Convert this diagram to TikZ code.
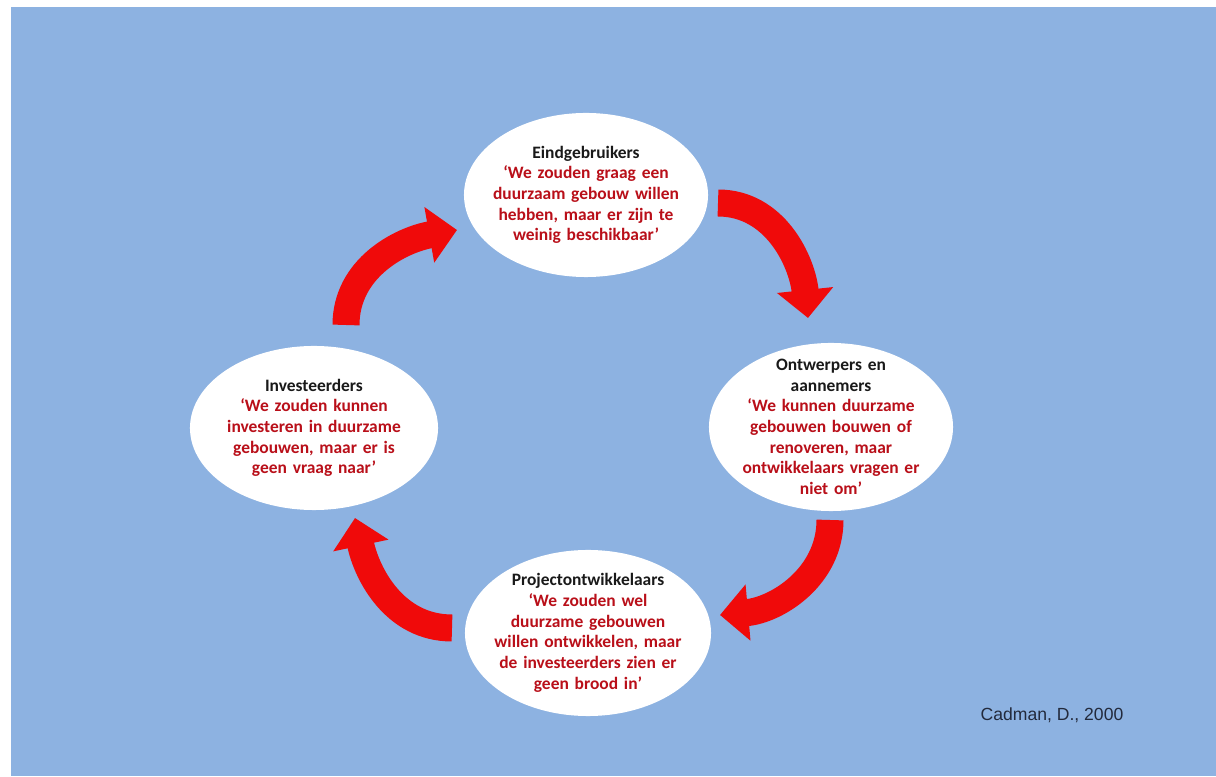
\documentclass[tikz,border=0pt]{standalone}
\usepackage{fontspec}
\setmainfont{Carlito}
\newfontfamily\citefont{Liberation Sans}
\usetikzlibrary{shapes.geometric,arrows.meta}

\definecolor{bgblue}{RGB}{141,178,225}
\definecolor{arrowred}{RGB}{240,10,10}
\definecolor{quotered}{RGB}{185,15,25}
\definecolor{citegray}{RGB}{35,42,60}

\begin{document}
\begin{tikzpicture}[x=0.025cm, y=0.025cm,
	blob/.style={shape=ellipse, fill=white, inner sep=0pt},
	says/.style={align=center, text width=6cm, text=black!90,
		font=\bfseries\fontsize{12.4}{14.7}\selectfont},
	turn/.style={line width=19.2pt, draw=arrowred,
		-{Triangle[width=39pt, length=20pt, color=arrowred]}}]

	\useasboundingbox (0,0) rectangle (1216,776);
	\fill[bgblue] (11,0) rectangle (1216,769);

	% the four parties
	\node[blob, minimum width=6.1cm, minimum height=4.1cm]  (eind) at (586, 581) {};
	\node[blob, minimum width=6.1cm, minimum height=4.2cm]  (ontw) at (831, 349) {};
	\node[blob, minimum width=6.2cm, minimum height=4.1cm]  (inv)  at (314, 348) {};
	\node[blob, minimum width=6.15cm, minimum height=4.15cm] (proj) at (588, 143) {};

	\node[says] (eind-txt) at (eind) {Eindgebruikers\\ \color{quotered}‘We zouden graag een\\ duurzaam gebouw willen\\ hebben, maar er zijn te\\ weinig beschikbaar’};
	\node[says] (ontw-txt) at (ontw) {Ontwerpers en\\ aannemers\\ \color{quotered}‘We kunnen duurzame\\ gebouwen bouwen of\\ renoveren, maar\\ ontwikkelaars vragen er\\ niet om’};
	\node[says] (inv-txt)  at (inv)  {Investeerders\\ \color{quotered}‘We zouden kunnen\\ investeren in duurzame\\ gebouwen, maar er is\\ geen vraag naar’};
	\node[says] (proj-txt) at (proj) {Projectontwikkelaars\\ \color{quotered}‘We zouden wel\\ duurzame gebouwen\\ willen ontwikkelen, maar\\ de investeerders zien er\\ geen brood in’};

	\node[font=\citefont\fontsize{12.5}{15}\selectfont, text=citegray] (cite) at (1052, 61) {Cadman, D., 2000};

	% ends of the curved arrows
	\coordinate (inv-out)  at (346, 451);
	\coordinate (eind-in)  at (457, 546);
	\coordinate (eind-out) at (718, 573);
	\coordinate (ontw-in)  at (808, 458);
	\coordinate (ontw-out) at (830, 256);
	\coordinate (proj-in)  at (720, 161);
	\coordinate (proj-out) at (452, 148);
	\coordinate (inv-in)   at (355, 258);

	\draw[turn] (inv-out)  to[out=90,  in=190] (eind-in);
	\draw[turn] (eind-out) to[out=0,   in=96]  (ontw-in);
	\draw[turn] (ontw-out) to[out=-90, in=5]   (proj-in);
	\draw[turn] (proj-out) to[out=180, in=-78] (inv-in);

\end{tikzpicture}
\end{document}
